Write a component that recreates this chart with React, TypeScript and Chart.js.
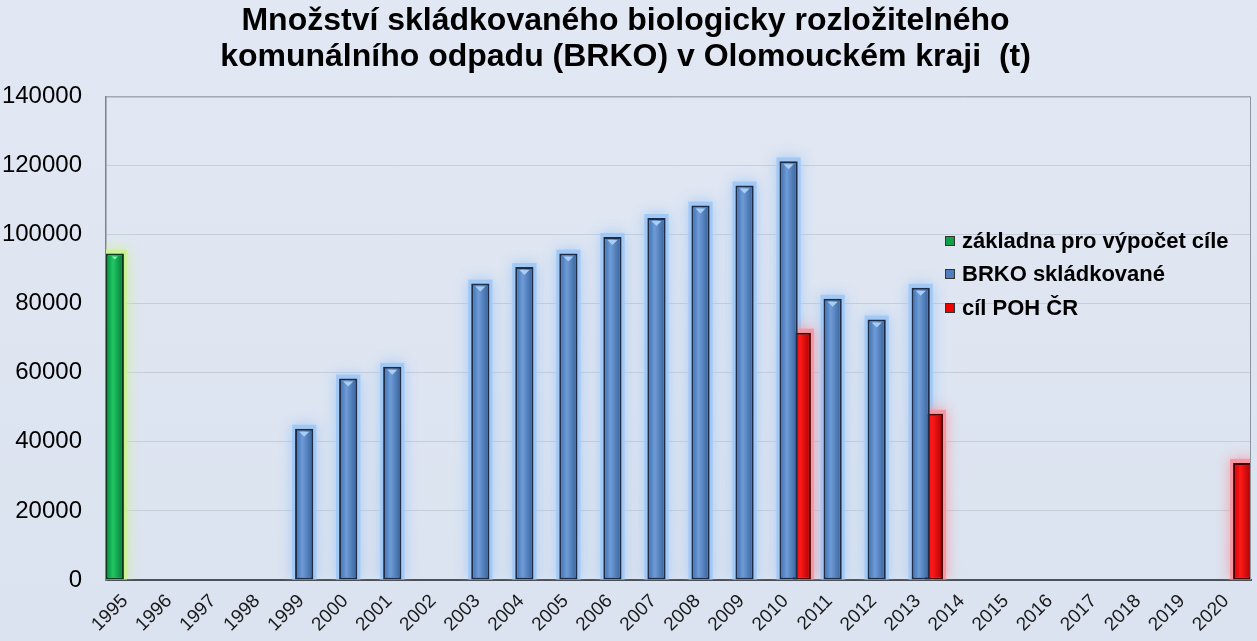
import React, { useEffect, useRef } from "react";
import { Chart, registerables } from "chart.js";

Chart.register(...registerables);

const years: string[] = [
  "1995", "1996", "1997", "1998", "1999", "2000", "2001", "2002", "2003", "2004",
  "2005", "2006", "2007", "2008", "2009", "2010", "2011", "2012", "2013", "2014",
  "2015", "2016", "2017", "2018", "2019", "2020",
];

const baseYear: (number | null)[] = [
  94500, null, null, null, null, null, null, null, null, null,
  null, null, null, null, null, null, null, null, null, null,
  null, null, null, null, null, null,
];

const brkoLandfilled: (number | null)[] = [
  null, null, null, null, 43800, 58300, 61700, null, 85800, 90600,
  94500, 99300, 104800, 108400, 114200, 121200, 81400, 75400, 84600, null,
  null, null, null, null, null, null,
];

const pohTarget: (number | null)[] = [
  null, null, null, null, null, null, null, null, null, null,
  null, null, null, null, null, 71600, null, null, 48100, null,
  null, null, null, null, null, 33900,
];

const seriesNames: string[] = ["základna pro výpočet cíle", "BRKO skládkované", "cíl POH ČR"];
const titleLines: string[] = [
  "Množství skládkovaného biologicky rozložitelného",
  "komunálního odpadu (BRKO) v Olomouckém kraji  (t)",
];
const yTicks: number[] = [0, 20000, 40000, 60000, 80000, 100000, 120000, 140000];

const FONT = "'Liberation Sans', Arial, sans-serif";
const CAT_PCT = 0.9;
const BAR_PCT = 1.38;

const palettes = [
  { stops: ["#00823a", "#22c866", "#007331"], border: "#0b3a1c", glow: "rgba(205,240,150,0.95)", legend: "#10a048" },
  { stops: ["#3c6aa8", "#6e9cd8", "#355e96"], border: "#1d2d48", glow: "rgba(160,200,245,0.95)", legend: "#4f7fc0" },
  { stops: ["#c80000", "#ff1a1a", "#a80000"], border: "#4a0000", glow: "rgba(245,150,160,0.95)", legend: "#ee0000" },
];

function makeFill(dsIndex: number) {
  return (c: any) => {
    const chart = c.chart;
    const pal = palettes[dsIndex];
    const xs = chart.scales && chart.scales.x;
    if (!chart.chartArea || !xs || c.type !== "data") return pal.stops[1];
    const catW = (chart.chartArea.right - chart.chartArea.left) / years.length;
    const slot = (catW * CAT_PCT) / 3;
    const cx = xs.getPixelForValue(c.dataIndex) + (dsIndex - 1) * slot;
    const half = (slot * BAR_PCT) / 2;
    const g = chart.ctx.createLinearGradient(cx - half, 0, cx + half, 0);
    g.addColorStop(0, pal.stops[0]);
    g.addColorStop(0.4, pal.stops[1]);
    g.addColorStop(1, pal.stops[2]);
    return g;
  };
}

const bgPlugin = {
  id: "bgPlugin",
  beforeDraw(chart: any) {
    const { ctx, width, height } = chart;
    ctx.save();
    const g = ctx.createLinearGradient(0, 0, 0, height);
    g.addColorStop(0, "#e2e8f3");
    g.addColorStop(1, "#dbe3f0");
    ctx.fillStyle = g;
    ctx.fillRect(0, 0, width, height);
    ctx.restore();
  },
};

const glowPlugin = {
  id: "glowPlugin",
  beforeDatasetsDraw(chart: any) {
    const { ctx, chartArea } = chart;
    ctx.save();
    ctx.beginPath();
    ctx.rect(chartArea.left, chartArea.top - 20, chartArea.right - chartArea.left, chartArea.bottom - chartArea.top + 20);
    ctx.clip();
    [0, 1, 2].forEach((di) => {
      const meta = chart.getDatasetMeta(di);
      meta.data.forEach((el: any, i: number) => {
        const v = chart.data.datasets[di].data[i];
        if (v === null || v === undefined) return;
        const w = el.width;
        const left = el.x - w / 2;
        ctx.shadowColor = palettes[di].glow;
        ctx.shadowBlur = 14;
        ctx.fillStyle = palettes[di].glow;
        ctx.fillRect(left - 3, el.y - 4, w + 6, el.base - el.y + 4);
      });
    });
    ctx.restore();
  },
};

const decorPlugin = {
  id: "decorPlugin",
  afterDatasetsDraw(chart: any) {
    const { ctx, chartArea } = chart;
    ctx.save();
    // small highlight triangles on top of blue and green bars
    [0, 1].forEach((di) => {
      const meta = chart.getDatasetMeta(di);
      meta.data.forEach((el: any, i: number) => {
        const v = chart.data.datasets[di].data[i];
        if (v === null || v === undefined) return;
        ctx.fillStyle = di === 1 ? "#a9cdf5" : "#8ff0b0";
        const w = di === 1 ? 5 : 3;
        ctx.beginPath();
        ctx.moveTo(el.x - w, el.y + 3);
        ctx.lineTo(el.x + w, el.y + 3);
        ctx.lineTo(el.x, el.y + 3 + w);
        ctx.closePath();
        ctx.fill();
      });
    });
    // plot border (top and right)
    ctx.strokeStyle = "#8d949f";
    ctx.lineWidth = 1;
    ctx.beginPath();
    ctx.moveTo(chartArea.left, chartArea.top + 0.5);
    ctx.lineTo(chartArea.right - 0.5, chartArea.top + 0.5);
    ctx.lineTo(chartArea.right - 0.5, chartArea.bottom);
    ctx.stroke();
    // legend
    const lx = chartArea.left + (945 - 106);
    const ly = [241, 274, 308];
    ctx.font = `bold 22px ${FONT}`;
    ctx.textBaseline = "middle";
    ctx.textAlign = "left";
    seriesNames.forEach((name, i) => {
      const y = ly[i];
      ctx.fillStyle = palettes[i].legend;
      ctx.fillRect(lx, y - 5, 10, 10);
      ctx.strokeStyle = "#333";
      ctx.lineWidth = 1;
      ctx.strokeRect(lx + 0.5, y - 4.5, 9, 9);
      ctx.fillStyle = "#000";
      ctx.fillText(name, lx + 17, y + 1);
    });
    ctx.restore();
  },
};

export default function App() {
  const canvasRef = useRef<HTMLCanvasElement | null>(null);

  useEffect(() => {
    document.body.style.margin = "0";
    const canvas = canvasRef.current;
    if (!canvas) return;
    const datasets = [baseYear, brkoLandfilled, pohTarget].map((d, i) => ({
      label: seriesNames[i],
      data: d,
      backgroundColor: makeFill(i),
      borderColor: palettes[i].border,
      borderWidth: 2,
      borderSkipped: false as any,
      categoryPercentage: CAT_PCT,
      barPercentage: BAR_PCT,
    }));

    const chart = new Chart(canvas, {
      type: "bar",
      data: { labels: years, datasets },
      options: {
        animation: false,
        responsive: false,
        maintainAspectRatio: false,
        layout: { padding: { left: 0, right: 6, top: 0, bottom: 0 } },
        plugins: {
          legend: { display: false },
          tooltip: { enabled: false },
          title: {
            display: true,
            text: titleLines,
            color: "#000",
            font: { family: FONT, size: 32, weight: "bold", lineHeight: 1.1 },
            padding: { top: 4, bottom: 22 },
          },
        },
        scales: {
          x: {
            grid: { display: false, drawTicks: false },
            border: { display: true, color: "#4a4f58", width: 2 },
            ticks: {
              color: "#1a1a1a",
              font: { family: FONT, size: 19 },
              minRotation: 45,
              maxRotation: 45,
              autoSkip: false,
              labelOffset: -3,
              padding: 10,
            },
            afterFit(scale: any) {
              scale.height = 61;
            },
          },
          y: {
            min: 0,
            max: 140000,
            afterBuildTicks(scale: any) {
              scale.ticks = yTicks.map((v) => ({ value: v }));
            },
            grid: { color: "#c6cedb", drawTicks: false, lineWidth: 1 },
            border: { display: true, color: "#7d828b", width: 1.5 },
            ticks: {
              color: "#000",
              font: { family: FONT, size: 24 },
              padding: 24,
              callback: (v: any) => String(v),
            },
            afterFit(scale: any) {
              scale.width = 106;
            },
          },
        },
      },
      plugins: [bgPlugin, glowPlugin, decorPlugin],
    });
    return () => chart.destroy();
  }, []);

  return (
    <div style={{ width: 1257, height: 641 }}>
      <canvas ref={canvasRef} width={1257} height={641} style={{ display: "block" }} />
    </div>
  );
}
